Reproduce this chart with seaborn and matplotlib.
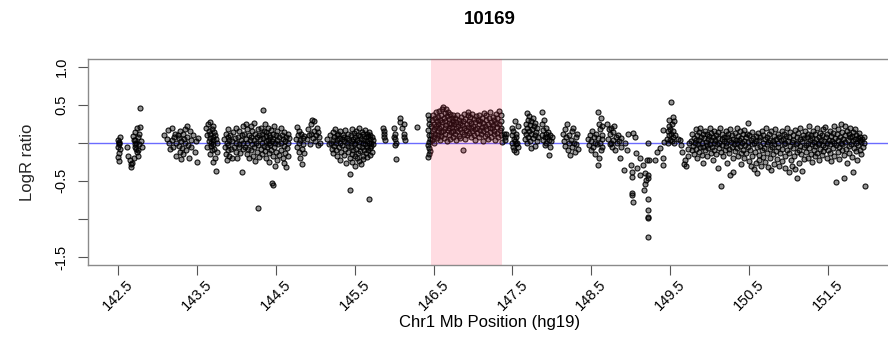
import matplotlib
matplotlib.use("Agg")
import matplotlib.pyplot as plt
import seaborn as sns
import pandas as pd

# ---------------- data (Mb position, LogR ratio) -------------
probes_142 = [(142.50,0.04),(142.51,0.01),(142.51,-0.02),(142.50,-0.05),(142.52,-0.08),(142.51,-0.13),(142.50,-0.19),(142.51,-0.24),(142.52,0.07),(142.51,0.0),
(142.62,-0.05),(142.63,-0.17),(142.65,-0.23),(142.66,-0.28),(142.67,-0.32),(142.68,-0.26),(142.69,0.09),(142.70,-0.2),(142.70,0.04),(142.71,-0.01),(142.71,0.03),(142.72,-0.05),(142.72,0.14),(142.73,0.0),(142.74,0.2),(142.74,-0.12),(142.75,0.08),(142.76,-0.1),(142.76,-0.18),(142.77,0.12),(142.78,0.21),(142.78,0.46),(142.79,0.02),(142.80,-0.06),(142.73,-0.08),(142.77,-0.02)]

probes_143 = [(143.08,0.1),(143.12,0.05),(143.13,0.17),(143.15,0.0),(143.16,-0.08),(143.18,0.2),(143.19,0.04),(143.2,-0.05),(143.22,0.12),(143.23,0.0),(143.24,-0.18),(143.26,0.1),(143.27,0.06),(143.27,-0.04),(143.28,-0.12),(143.29,0.16),(143.3,0.02),(143.31,-0.07),(143.32,0.12),(143.33,-0.15),(143.34,0.05),(143.35,0.0),(143.36,-0.1),(143.37,0.22),(143.38,0.08),(143.39,-0.03),(143.4,-0.2),(143.41,0.15),(143.42,0.03),(143.43,-0.06),(143.45,0.1),(143.47,-0.12),(143.49,0.02),(143.5,-0.25),(143.52,0.06),(143.3,-0.21),(143.21,0.08),(143.35,0.18),
(143.62,0.2),(143.63,0.1),(143.63,-0.06),(143.64,0.25),(143.65,0.16),(143.65,0.02),(143.66,-0.15),(143.67,0.12),(143.67,0.06),(143.68,0.0),(143.68,-0.04),(143.69,0.18),(143.69,-0.1),(143.70,0.08),(143.70,0.22),(143.71,0.03),(143.71,-0.02),(143.72,0.14),(143.72,-0.08),(143.73,0.1),(143.73,-0.2),(143.74,0.05),(143.74,-0.37),(143.75,0.0),(143.76,-0.12),(143.66,0.27),(143.70,-0.25),
(143.85,0.05),(143.86,-0.05),(143.87,0.12),(143.87,-0.15),(143.88,0.0),(143.88,-0.22),(143.89,0.08),(143.89,-0.1),(143.90,0.18),(143.90,-0.03),(143.91,0.03),(143.91,-0.18),(143.92,0.1),(143.93,-0.08),(143.94,0.02),(143.95,-0.2),(143.96,0.14),(143.97,-0.05),(143.98,0.06),(143.99,-0.12)]

probes_144 = [(144.00,0.0),(144.00,0.2),(144.01,-0.2),(144.02,0.08),(144.03,-0.06),(144.04,0.15),(144.04,-0.01),(144.05,-0.14),(144.06,0.04),(144.07,-0.38),(144.07,0.1),(144.08,-0.08),(144.09,0.22),(144.09,0.0),
(144.10,0.12),(144.11,-0.05),(144.12,0.25),(144.12,0.05),(144.13,-0.15),(144.14,0.0),(144.14,0.18),(144.15,-0.08),(144.16,0.1),(144.16,-0.2),(144.17,0.03),(144.18,0.22),(144.18,-0.1),(144.19,0.07),(144.20,-0.02),(144.20,0.15),(144.21,-0.17),(144.22,0.04),(144.22,0.26),(144.23,-0.06),(144.24,0.12),(144.24,-0.24),(144.25,0.0),(144.26,0.08),(144.26,-0.12),(144.27,-0.86),(144.27,0.18),(144.28,-0.03),(144.29,0.1),(144.29,-0.19),(144.30,0.05),
(144.31,0.2),(144.31,-0.08),(144.32,0.0),(144.32,0.12),(144.33,-0.15),(144.34,0.43),(144.34,0.06),(144.35,-0.04),(144.35,0.16),(144.36,0.24),(144.36,-0.11),(144.37,0.02),(144.37,0.09),(144.38,-0.2),(144.38,0.14),(144.39,-0.06),(144.40,0.04),(144.40,0.2),(144.41,-0.13),(144.41,0.0),(144.42,0.1),(144.42,-0.25),(144.43,0.07),(144.43,-0.03),(144.44,0.17),(144.44,-0.09),(144.45,-0.53),(144.46,-0.55),(144.45,0.02),(144.46,0.12),(144.47,-0.18),(144.47,0.05),(144.48,-0.05),(144.48,0.22),(144.49,0.0),(144.49,-0.3),(144.50,0.1),(144.50,-0.12),(144.51,0.03),(144.52,-0.22),(144.52,0.15),(144.53,-0.02),(144.54,0.08),(144.54,-0.16),
(144.56,0.19),(144.57,0.0),(144.57,-0.1),(144.58,0.1),(144.59,-0.2),(144.59,0.05),(144.60,-0.04),(144.61,0.14),(144.61,-0.27),(144.62,0.02),(144.62,-0.14),(144.63,0.08),(144.63,-0.32),(144.64,-0.07),(144.65,0.12),(144.65,0.0),(144.66,-0.18),(144.67,0.06),
(144.76,0.05),(144.77,0.21),(144.77,-0.05),(144.78,0.1),(144.79,-0.12),(144.79,0.0),(144.80,0.16),(144.81,-0.2),(144.81,0.04),(144.82,0.12),(144.83,-0.08),(144.83,-0.28),(144.84,0.06),(144.85,-0.02),(144.86,0.09),(144.86,-0.14),
(144.90,0.05),(144.91,0.18),(144.92,0.1),(144.93,-0.02),(144.94,0.24),(144.95,0.12),(144.96,0.3),(144.97,0.06),(144.98,0.28),(144.99,0.16)]

probes_145 = [(145.00,0.02),(145.01,0.1),(145.02,0.2),(145.03,-0.03),(145.04,0.14),(145.05,0.08),(145.06,0.0),
(145.15,0.05),(145.17,-0.02),(145.19,0.1),(145.2,0.0),(145.21,-0.08),(145.22,0.14),(145.22,0.04),(145.23,-0.14),(145.24,0.08),(145.24,-0.04),(145.25,0.18),(145.26,0.0),(145.26,-0.1),(145.27,0.1),(145.28,-0.18),(145.28,0.03),(145.29,0.12),(145.30,-0.06),(145.30,0.06),(145.31,-0.22),(145.32,0.0),(145.32,0.15),(145.33,-0.12),(145.34,0.05),(145.34,-0.03),(145.35,0.1),(145.36,-0.16),(145.36,0.02),(145.37,0.08),(145.38,-0.08),(145.38,0.17),(145.39,-0.26),(145.40,0.0),(145.40,0.06),(145.41,-0.12),(145.42,0.12),(145.42,-0.04),(145.43,0.03),(145.44,-0.41),(145.44,-0.62),(145.44,-0.2),
(145.45,0.1),(145.45,-0.06),(145.46,0.02),(145.46,-0.15),(145.47,0.18),(145.47,-0.25),(145.48,0.05),(145.48,-0.1),(145.49,-0.02),(145.49,0.13),(145.50,-0.18),(145.50,0.07),(145.51,-0.3),(145.51,0.0),(145.52,0.15),(145.52,-0.08),(145.53,-0.2),(145.53,0.04),(145.54,0.1),(145.54,-0.13),(145.55,-0.04),(145.55,0.2),(145.56,-0.24),(145.56,0.01),(145.57,0.09),(145.57,-0.11),(145.58,-0.28),(145.58,0.05),(145.59,0.14),(145.59,-0.06),(145.60,-0.17),(145.60,0.0),(145.61,0.11),(145.61,-0.21),(145.62,0.03),(145.62,-0.09),(145.63,0.17),(145.63,-0.01),(145.64,-0.14),(145.64,0.07),(145.65,-0.05),(145.65,0.12),(145.66,-0.19),(145.66,0.02),(145.67,0.09),(145.67,-0.1),(145.68,-0.74),(145.68,0.0),(145.68,0.14),(145.69,-0.07),(145.69,0.05),(145.70,0.1),(145.70,-0.16),(145.71,0.0),(145.71,-0.04),(145.72,0.08),(145.72,-0.12),(145.73,0.03),(145.73,-0.02),
(145.86,0.2),(145.87,0.15),(145.87,0.08),(145.88,0.03),(145.87,0.11)]

probes_146 = [(146.00,0.2),(146.01,0.12),(146.01,0.05),(146.02,0.0),(146.01,-0.03),(146.02,-0.21),(146.00,0.08),
(146.07,0.33),(146.08,0.27),(146.10,0.2),(146.12,0.12),(146.13,0.07),(146.14,0.04),(146.12,0.25),
(146.29,0.21),
(146.43,0.37),(146.44,0.31),(146.44,0.24),(146.43,0.17),(146.44,0.1),(146.45,0.05),(146.44,0.01),(146.43,-0.03),(146.44,-0.07),(146.45,-0.11),(146.44,-0.15),(146.43,-0.19)]

# gained segment (highlighted)
probes_gain = [(146.47,0.1),(146.47,0.22),(146.48,0.3),(146.48,0.03),(146.49,0.15),(146.49,0.36),(146.50,0.08),(146.50,0.25),(146.51,0.18),(146.51,0.0),(146.52,0.32),(146.52,0.12),(146.53,0.22),(146.53,0.4),(146.54,0.06),(146.54,0.28),(146.55,0.16),(146.55,0.34),(146.56,0.1),(146.56,0.24),(146.57,0.42),(146.57,0.19),(146.58,0.04),(146.58,0.3),(146.59,0.14),(146.59,0.37),(146.60,0.22),(146.60,0.09),
(146.61,0.44),(146.61,0.27),(146.62,0.16),(146.62,0.47),(146.63,0.33),(146.63,0.06),(146.64,0.2),(146.64,0.39),(146.65,0.12),(146.65,0.29),(146.66,0.45),(146.66,0.23),(146.67,0.02),(146.67,0.35),(146.68,0.17),(146.68,0.41),(146.69,0.26),(146.69,0.1),(146.70,0.31),(146.70,0.19),(146.71,0.38),(146.71,0.05),(146.72,0.24),(146.72,0.14),(146.73,0.33),(146.73,0.21),(146.74,0.08),(146.74,0.28),(146.75,0.16),(146.75,0.37),
(146.76,0.25),(146.77,0.11),(146.77,0.32),(146.78,0.2),(146.79,0.03),(146.79,0.27),(146.80,0.15),(146.80,0.36),(146.81,0.22),(146.82,0.09),(146.82,0.3),(146.83,0.18),(146.84,0.26),(146.84,0.06),(146.85,0.34),(146.86,0.14),(146.86,0.23),(146.87,-0.09),(146.87,0.29),(146.88,0.12),(146.89,0.38),(146.89,0.2),(146.90,0.05),(146.90,0.31),(146.91,0.17),(146.92,0.25),(146.92,0.1),(146.93,0.36),(146.94,0.41),(146.94,0.21),(146.95,0.13),(146.95,0.28),
(146.96,0.34),(146.97,0.19),(146.97,0.07),(146.98,0.26),(146.99,0.15),(146.99,0.38),(147.00,0.22),(147.01,0.1),(147.01,0.31),(147.02,0.18),(147.03,0.27),(147.03,0.04),(147.04,0.35),(147.05,0.2),(147.05,0.13),(147.06,0.3),(147.07,0.24),(147.07,0.08),(147.08,0.37),(147.09,0.17),(147.09,0.28),(147.10,0.11),(147.11,0.33),(147.11,0.21),(147.12,0.02),(147.13,0.26),(147.13,0.15),(147.14,0.39),(147.15,0.22),(147.15,0.09),
(147.16,0.3),(147.17,0.18),(147.17,0.36),(147.18,0.12),(147.19,0.25),(147.19,0.05),(147.20,0.32),(147.21,0.2),(147.21,0.14),(147.22,0.41),(147.23,0.27),(147.23,0.08),(147.24,0.19),(147.25,0.34),(147.25,0.23),(147.26,0.11),(147.27,0.3),(147.27,0.16),(147.28,0.03),(147.29,0.26),(147.29,0.38),(147.30,0.21),(147.31,0.13),(147.31,0.33),(147.32,0.07),(147.33,0.24),(147.33,0.42),(147.34,0.17),(147.35,0.29),(147.35,0.1),(147.36,0.36),(147.36,0.2),(147.37,0.01)]

probes_147 = [(147.39,0.12),(147.40,0.04),(147.41,0.08),(147.42,0.11),
(147.49,0.2),(147.50,0.1),(147.50,0.0),(147.51,-0.05),(147.51,0.15),(147.52,0.05),(147.52,-0.1),(147.53,0.28),(147.53,0.02),(147.54,-0.02),(147.54,0.12),(147.55,-0.12),(147.55,0.07),(147.56,0.0),(147.57,-0.06),(147.57,0.22),
(147.65,0.15),(147.66,0.05),(147.67,0.25),(147.67,0.12),(147.68,0.39),(147.68,0.0),(147.69,0.2),(147.70,0.3),(147.70,0.08),(147.71,0.16),(147.71,0.35),(147.72,0.23),(147.72,0.02),(147.73,0.12),(147.74,0.28),(147.74,-0.07),(147.75,0.18),(147.76,0.06),(147.76,0.33),(147.77,0.22),(147.78,0.1),(147.78,-0.04),(147.79,0.26),(147.80,0.14),(147.81,0.02),(147.81,0.2),(147.82,0.08),
(147.87,0.4),(147.87,0.1),(147.88,0.24),(147.89,0.03),(147.89,0.17),(147.90,0.3),(147.91,0.08),(147.91,-0.03),(147.92,0.12),(147.93,0.2),(147.93,0.0),(147.94,0.07),(147.95,0.14),(147.96,-0.16),(147.96,0.04),(147.97,0.1),(147.98,-0.05),(147.99,0.02)]

probes_148 = [(148.00,0.08),
(148.14,0.12),(148.15,0.02),(148.16,0.18),(148.17,-0.04),(148.18,0.07),(148.19,0.24),(148.20,-0.1),(148.21,0.0),(148.22,0.1),(148.23,-0.16),(148.24,0.04),(148.25,0.15),(148.26,-0.06),(148.27,0.2),(148.28,0.0),(148.29,-0.12),(148.30,0.08),(148.31,-0.02),(148.32,0.12),(148.33,-0.08),
(148.46,0.05),(148.47,-0.03),(148.48,0.1),(148.49,-0.1),(148.50,0.02),(148.51,0.16),(148.52,-0.06),(148.53,0.08),(148.54,0.0),(148.55,-0.15),(148.56,0.12),(148.57,-0.02),(148.58,0.06),(148.59,0.4),(148.59,-0.29),(148.60,0.25),(148.60,-0.2),(148.61,0.18),(148.61,0.0),(148.62,0.32),(148.62,-0.1),(148.63,0.1),(148.63,-0.05),(148.64,0.22),(148.64,0.05),
(148.70,0.24),(148.71,0.05),(148.72,0.18),(148.73,-0.02),(148.74,0.12),(148.75,0.2),(148.75,0.0),(148.76,-0.06),(148.77,0.14),(148.78,0.04),(148.79,0.22),(148.80,-0.09),(148.81,0.08),(148.82,0.0),
(148.84,0.1),(148.85,0.02),(148.86,-0.2),(148.87,-0.05),(148.88,0.06),(148.91,-0.36),(148.93,0.0),(148.95,-0.1),(148.97,0.12)]

# deletion dip and region up to 149.75
probes_149 = [(149.00,-0.29),(149.01,-0.39),(149.01,-0.45),(149.02,-0.66),(149.02,-0.68),(149.03,-0.78),(149.03,0.13),(149.05,0.08),(149.06,-0.14),(149.08,-0.33),(149.12,-0.2),(149.12,-0.42),(149.15,-0.29),(149.18,-0.4),(149.19,-0.49),(149.18,-0.54),(149.17,-0.62),(149.22,-0.42),(149.22,-0.46),(149.22,-0.74),(149.22,-0.88),(149.22,-0.97),(149.22,-0.99),(149.22,-1.24),(149.22,0.0),(149.21,-0.22),(149.23,-0.22),(149.31,-0.22),(149.33,-0.12),(149.37,-0.07),(149.41,-0.2),(149.41,-0.29),(149.41,0.17),(149.42,0.01),
(149.46,0.05),(149.47,0.15),(149.47,0.0),(149.48,0.22),(149.49,0.1),(149.49,0.3),(149.50,0.04),(149.50,0.18),(149.51,0.53),(149.51,0.12),(149.52,0.25),(149.52,0.02),(149.53,0.34),(149.53,0.08),(149.54,0.16),(149.55,0.28),(149.55,0.0),(149.56,0.1),
(149.60,0.05),(149.62,0.04),(149.64,-0.03),(149.65,-0.12),(149.67,-0.28),(149.69,-0.22),(149.70,-0.3),(149.72,-0.18),(149.73,-0.08),(149.74,0.0),
(149.76,0.02),(149.77,-0.1),(149.78,0.12),(149.79,-0.04),(149.80,0.06),(149.80,-0.15),(149.81,0.0),(149.82,0.18),(149.82,-0.08),(149.83,0.04),(149.84,-0.2),(149.84,0.1),(149.85,-0.02),(149.86,0.14),(149.86,-0.12),(149.87,0.03),(149.88,-0.06),(149.88,0.2),(149.89,0.08),(149.90,-0.16),(149.90,0.0),(149.91,0.11),(149.92,-0.05),(149.92,-0.26),(149.93,0.06),(149.94,0.16),(149.94,-0.1),(149.95,0.01),(149.96,-0.03),(149.96,0.12),(149.97,-0.18),(149.98,0.05),(149.98,-0.07),(149.99,0.09)]

probes_150 = [(150.00,-0.01),(150.00,0.2),(150.01,-0.13),(150.02,0.04),(150.02,0.13),(150.03,-0.05),(150.04,0.08),(150.04,-0.22),(150.05,0.0),(150.06,0.16),(150.06,-0.09),(150.07,0.03),(150.08,-0.15),(150.08,0.1),(150.09,-0.02),(150.10,0.06),(150.10,-0.33),(150.11,0.14),(150.12,-0.07),(150.12,0.0),(150.13,0.19),(150.14,-0.12),(150.14,-0.57),(150.15,0.05),(150.16,-0.03),(150.16,0.11),(150.17,-0.18),(150.18,0.02),(150.18,0.08),(150.19,-0.1),(150.20,0.15),(150.20,-0.04),(150.21,0.0),(150.22,-0.26),(150.22,0.07),(150.23,0.12),(150.24,-0.08),(150.24,0.03),(150.25,-0.14),(150.26,0.18),(150.26,-0.42),(150.27,0.01),(150.28,-0.05),(150.28,0.1),(150.29,-0.38),(150.29,-0.2),(150.30,0.05),
(150.31,-0.02),(150.32,0.13),(150.32,-0.11),(150.33,0.04),(150.34,-0.07),(150.34,0.2),(150.35,0.0),(150.36,-0.17),(150.36,0.09),(150.37,0.03),(150.38,-0.04),(150.38,0.15),(150.39,-0.13),(150.40,0.06),(150.40,-0.28),(150.41,0.0),(150.42,0.11),(150.42,-0.09),(150.43,0.02),(150.44,-0.2),(150.44,0.17),(150.45,-0.03),(150.46,0.07),(150.46,-0.14),(150.47,0.12),(150.48,0.26),(150.48,-0.06),(150.49,0.01),(150.50,-0.24),(150.50,0.1),(150.51,-0.1),(150.52,0.04),(150.52,-0.31),(150.53,0.14),(150.54,-0.02),(150.54,-0.18),(150.55,0.06),(150.56,-0.35),(150.56,0.0),(150.57,-0.12),(150.58,0.09),(150.58,-0.27),(150.59,0.02),(150.60,-0.4),(150.60,-0.06),
(150.61,0.13),(150.62,-0.16),(150.62,0.03),(150.63,-0.22),(150.64,0.08),(150.64,-0.04),(150.65,-0.3),(150.66,0.16),(150.66,-0.1),(150.67,0.0),(150.68,-0.19),(150.68,0.1),(150.69,-0.07),(150.70,0.05),(150.70,-0.25),(150.71,0.2),(150.72,-0.02),(150.72,-0.13),(150.73,0.07),(150.74,-0.32),(150.74,0.01),(150.75,0.12),(150.76,-0.08),(150.76,-0.2),(150.77,0.04),(150.78,-0.36),(150.78,0.15),(150.79,-0.05),(150.80,0.02),(150.80,-0.15),(150.81,0.09),(150.82,-0.28),(150.82,-0.01),(150.83,0.18),(150.84,-0.11),(150.84,0.05),(150.85,-0.21),(150.86,0.0),(150.86,0.11),(150.87,-0.06),(150.88,-0.3),(150.88,0.07),(150.89,-0.14),(150.90,0.03),
(150.91,0.16),(150.92,-0.08),(150.92,-0.24),(150.93,0.05),(150.94,-0.02),(150.94,0.12),(150.95,-0.17),(150.96,0.0),(150.96,-0.33),(150.97,0.09),(150.98,-0.1),(150.98,0.2),(150.99,0.02)]

probes_151 = [(151.00,-0.14),(151.00,-0.38),(151.01,0.07),(151.02,-0.04),(151.02,0.14),(151.03,-0.22),(151.04,0.01),(151.04,-0.3),(151.05,0.1),(151.06,-0.07),(151.06,0.04),(151.07,-0.18),(151.08,0.17),(151.08,-0.35),(151.09,-0.02),(151.10,0.08),(151.10,-0.12),(151.11,-0.46),(151.11,0.0),(151.12,0.13),(151.13,-0.09),(151.13,-0.26),(151.14,0.05),(151.15,-0.04),(151.15,0.19),(151.16,-0.15),(151.17,0.02),(151.17,-0.37),(151.18,0.1),(151.19,-0.06),(151.19,-0.21),(151.20,0.06),
(151.21,0.15),(151.22,-0.03),(151.22,-0.12),(151.23,0.08),(151.24,0.0),(151.24,-0.2),(151.25,0.12),(151.26,-0.07),(151.26,0.22),(151.27,0.03),(151.28,-0.15),(151.28,0.1),(151.29,-0.01),(151.30,-0.25),(151.30,0.06),(151.31,0.16),(151.32,-0.09),(151.32,0.01),(151.33,-0.18),(151.34,0.11),(151.34,-0.04),(151.35,0.05),(151.36,-0.13),(151.36,0.2),(151.37,-0.02),(151.38,0.08),(151.38,-0.23),(151.39,0.0),(151.40,0.13),(151.40,-0.08),(151.41,0.04),(151.42,-0.16),(151.42,0.1),(151.43,-0.03),(151.44,0.18),(151.44,-0.11),(151.45,0.02),(151.46,0.21),(151.46,-0.06),(151.47,0.07),(151.48,-0.2),(151.48,0.0),(151.49,0.12),(151.50,-0.09),
(151.51,0.04),(151.52,0.16),(151.52,-0.14),(151.53,-0.01),(151.54,0.09),(151.54,-0.24),(151.55,0.02),(151.56,0.13),(151.56,-0.07),(151.57,0.0),(151.58,-0.17),(151.58,0.22),(151.59,0.06),(151.60,-0.51),(151.60,-0.03),(151.61,0.11),(151.62,-0.12),(151.62,0.03),(151.63,0.18),(151.64,-0.05),(151.64,-0.21),(151.65,0.08),(151.66,0.0),(151.66,0.24),(151.67,-0.1),(151.68,0.14),(151.68,-0.02),(151.69,0.05),(151.70,-0.46),(151.70,-0.16),(151.71,0.1),(151.72,0.01),(151.72,0.22),(151.73,-0.08),(151.74,0.15),(151.74,-0.27),(151.75,0.04),(151.76,-0.04),(151.76,0.12),(151.77,-0.14),(151.78,0.07),(151.78,0.2),(151.79,-0.01),(151.80,-0.19),(151.80,0.09),(151.81,0.02),(151.82,-0.38),(151.82,0.14),(151.83,-0.07),(151.84,0.05),(151.84,0.18),(151.85,-0.11),(151.86,0.0),(151.86,0.1),(151.87,-0.23),(151.88,0.06),(151.88,-0.03),(151.89,0.13),(151.90,-0.09),(151.90,0.03),(151.91,0.08),(151.92,-0.15),(151.92,0.01),(151.93,0.05),(151.94,-0.05),(151.95,0.07),(151.96,0.0),(151.97,-0.57)]

gain_region = (146.47, 147.37)
x_ticks = [142.5, 143.5, 144.5, 145.5, 146.5, 147.5, 148.5, 149.5, 150.5, 151.5]
y_ticks = [1.0, 0.5, 0.0, -0.5, -1.0, -1.5]
y_tick_labels = ["1.0", "0.5", "", "-0.5", "", "-1.5"]
title = "10169"

# ---------------- build table --------------
all_probes = (probes_142 + probes_143 + probes_144 + probes_145 + probes_146 +
              probes_gain + probes_147 + probes_148 + probes_149 + probes_150 + probes_151)
df = pd.DataFrame(all_probes, columns=["pos", "logr"])

sns.set_theme(style="white")
plt.rcParams["font.family"] = ["Liberation Sans", "DejaVu Sans"]
plt.rcParams["text.color"] = "black"
plt.rcParams["xtick.color"] = "black"
plt.rcParams["ytick.color"] = "black"

fig = plt.figure(figsize=(8.88, 3.47), dpi=100)
ax = fig.add_axes([88/888, 82/347, 804/888, 206/347])

sns.scatterplot(data=df, x="pos", y="logr", ax=ax, marker="o", s=13,
                facecolor=(0, 0, 0, 0.42), edgecolor=(0, 0, 0, 0.9),
                linewidth=0.8, zorder=2, legend=False)
ax.axhline(0, color="#6b6bff", linewidth=1.0, zorder=1)
ax.axvspan(gain_region[0], gain_region[1], color="#ff3355", alpha=0.17,
           linewidth=0, zorder=3)

ax.set_xlim(142.12, 152.31)
ax.set_ylim(-1.605, 1.10)

ax.set_xticks(x_ticks)
ax.set_xticklabels([f"{t:.1f}" for t in x_ticks], rotation=45, ha="center",
                   va="top", fontsize=10.5)
ax.set_yticks(y_ticks)
ax.set_yticklabels(y_tick_labels, rotation=90, va="center", fontsize=10.5)

ax.tick_params(axis="both", which="major", direction="out", length=7,
               width=0.8, color="#555555", bottom=True, left=True)
ax.tick_params(axis="x", pad=2)
ax.tick_params(axis="y", pad=7)

for sp in ax.spines.values():
    sp.set_color("#8a8a8a")
    sp.set_linewidth(1.0)

ax.set_xlabel("")
ax.set_ylabel("LogR ratio", fontsize=12, labelpad=14)
fig.text(490/888, 1 - 322/347, "Chr1 Mb Position (hg19)", fontsize=12,
         ha="center", va="center")
fig.text(490/888, 1 - 20/347, title, fontsize=13.5, fontweight="bold",
         ha="center", va="center")

fig.savefig("out.png", dpi=100, facecolor="white")
